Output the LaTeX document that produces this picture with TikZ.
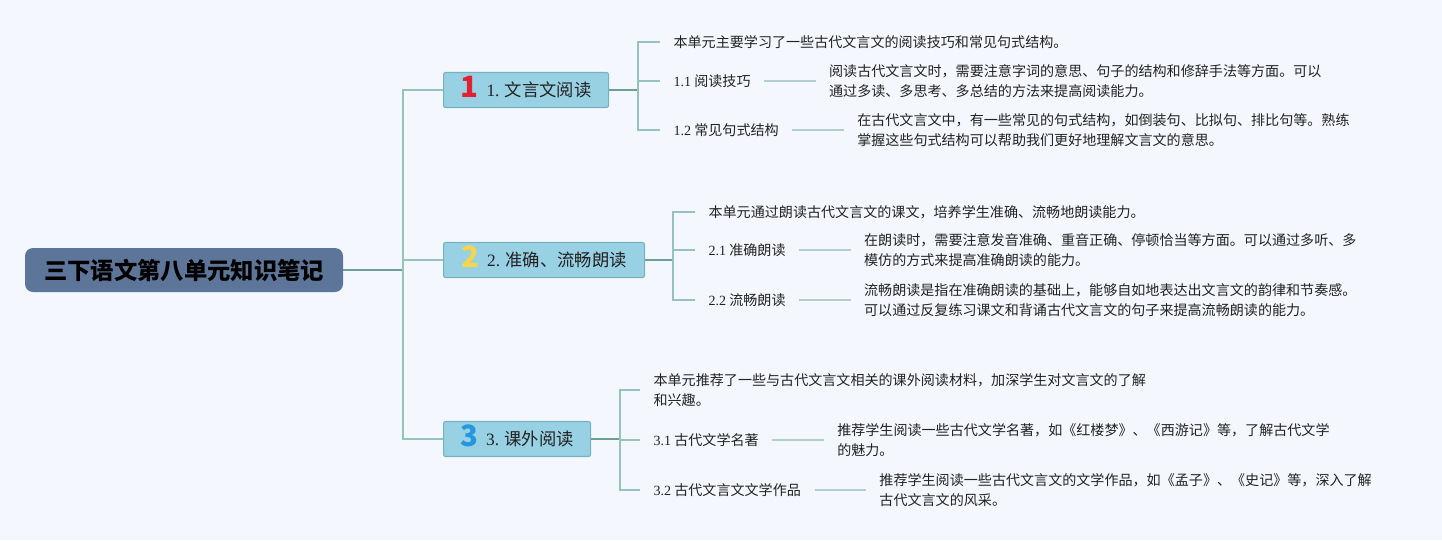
\documentclass[tikz,border=0pt]{standalone}
\usepackage{fontspec}
\setmainfont{Noto Sans CJK SC}
\newfontfamily\latin{Liberation Serif}
\usetikzlibrary{positioning}

\definecolor{bgcol}{RGB}{244,248,254}
\definecolor{rootblue}{RGB}{92,117,153}
\definecolor{branchblue}{RGB}{152,208,228}
\definecolor{branchedge}{RGB}{120,178,190}
\definecolor{trunkcol}{RGB}{108,160,150}
\definecolor{stemcol}{RGB}{150,195,188}
\definecolor{twigcol}{RGB}{176,208,206}
\definecolor{inkgray}{RGB}{34,34,34}
\definecolor{numred}{RGB}{226,32,52}
\definecolor{numyellow}{RGB}{246,214,72}
\definecolor{numblue}{RGB}{38,150,222}

\newcommand{\iconnum}[2]{\smash{\raisebox{-1pt}{\fontsize{22}{22}\selectfont\bfseries\color{#1}#2}}\hspace{6pt}}

\begin{document}
\begin{tikzpicture}[x=0.75pt, y=-0.75pt,
    root/.style = {fill=rootblue, rounded corners=6pt, minimum width=238.5pt, minimum height=33pt,
                   font=\fontsize{17.5}{20}\selectfont\bfseries, text=black},
    branch/.style = {draw=branchedge, fill=branchblue, rounded corners=1.5pt, line width=0.8pt,
                     minimum height=26.25pt, anchor=west, inner ysep=0pt,
                     font=\fontsize{13}{15}\selectfont, text=inkgray},
    leaf/.style = {anchor=west, inner xsep=10pt, inner ysep=2pt, align=left,
                   font=\fontsize{10.55}{14.6}\selectfont, text=inkgray},
    trunk/.style = {draw=trunkcol, line width=1.5pt},
    stem/.style = {draw=stemcol, line width=1.2pt},
    twig/.style = {draw=twigcol, line width=1.1pt}]

    \fill[bgcol] (0,0) rectangle (1442,540);
    \useasboundingbox (0,0) rectangle (1442,540);

    % root and main branches
    \node[root] (root) at (184,270) {三下语文第八单元知识笔记};

    \node[branch, minimum width=123.75pt] (b1) at (443,90) {\iconnum{numred}{1}{\latin 1.} 文言文阅读};
    \node[branch, minimum width=150.75pt] (b2) at (443,260) {\iconnum{numyellow}{2}{\latin 2.} 准确、流畅朗读};
    \node[branch, minimum width=110.25pt] (b3) at (443,439) {\iconnum{numblue}{3}{\latin 3.} 课外阅读};

    \coordinate (j0) at (403,270);
    \coordinate (j1) at (638,90);
    \coordinate (j2) at (673,260);
    \coordinate (j3) at (620,439);

    \draw[trunk] (root.east) -- (j0);
    \draw[stem] (j0) |- (b1.west);
    \draw[stem] (j0) |- (b2.west);
    \draw[stem] (j0) |- (b3.west);

    % 1. reading
    \node[leaf] (t1) at (660,42) {本单元主要学习了一些古代文言文的阅读技巧和常见句式结构。};
    \node[leaf] (s11) at (660,81) {{\latin 1.1} 阅读技巧};
    \node[leaf] (s12) at (660,130) {{\latin 1.2} 常见句式结构};
    \node[leaf, right=38.5pt of s11] (d11) {阅读古代文言文时，需要注意字词的意思、句子的结构和修辞手法等方面。可以\\通过多读、多思考、多总结的方法来提高阅读能力。};
    \node[leaf, right=38.5pt of s12] (d12) {在古代文言文中，有一些常见的句式结构，如倒装句、比拟句、排比句等。熟练\\掌握这些句式结构可以帮助我们更好地理解文言文的意思。};

    \draw[trunk] (b1.east) -- (j1);
    \draw[stem] (j1) |- (t1.west);
    \draw[stem] (j1) |- (s11.west);
    \draw[stem] (j1) |- (s12.west);
    \path[twig] (s11) edge (d11);
    \path[twig] (s12) edge (d12);

    % 2. reading aloud
    \node[leaf] (t2) at (695,212) {本单元通过朗读古代文言文的课文，培养学生准确、流畅地朗读能力。};
    \node[leaf] (s21) at (695,250) {{\latin 2.1} 准确朗读};
    \node[leaf] (s22) at (695,300) {{\latin 2.2} 流畅朗读};
    \node[leaf, right=38.5pt of s21] (d21) {在朗读时，需要注意发音准确、重音正确、停顿恰当等方面。可以通过多听、多\\模仿的方式来提高准确朗读的能力。};
    \node[leaf, right=38.5pt of s22] (d22) {流畅朗读是指在准确朗读的基础上，能够自如地表达出文言文的韵律和节奏感。\\可以通过反复练习课文和背诵古代文言文的句子来提高流畅朗读的能力。};

    \draw[trunk] (b2.east) -- (j2);
    \draw[stem] (j2) |- (t2.west);
    \draw[stem] (j2) |- (s21.west);
    \draw[stem] (j2) |- (s22.west);
    \path[twig] (s21) edge (d21);
    \path[twig] (s22) edge (d22);

    % 3. extra reading
    \node[leaf] (t3) at (640,390) {本单元推荐了一些与古代文言文相关的课外阅读材料，加深学生对文言文的了解\\和兴趣。};
    \node[leaf] (s31) at (640,440) {{\latin 3.1} 古代文学名著};
    \node[leaf] (s32) at (640,490) {{\latin 3.2} 古代文言文文学作品};
    \node[leaf, right=38.5pt of s31] (d31) {推荐学生阅读一些古代文学名著，如《红楼梦》、《西游记》等，了解古代文学\\的魅力。};
    \node[leaf, right=38.5pt of s32] (d32) {推荐学生阅读一些古代文言文的文学作品，如《孟子》、《史记》等，深入了解\\古代文言文的风采。};

    \draw[trunk] (b3.east) -- (j3);
    \draw[stem] (j3) |- (t3.west);
    \draw[stem] (j3) |- (s31.west);
    \draw[stem] (j3) |- (s32.west);
    \path[twig] (s31) edge (d31);
    \path[twig] (s32) edge (d32);
\end{tikzpicture}
\end{document}
